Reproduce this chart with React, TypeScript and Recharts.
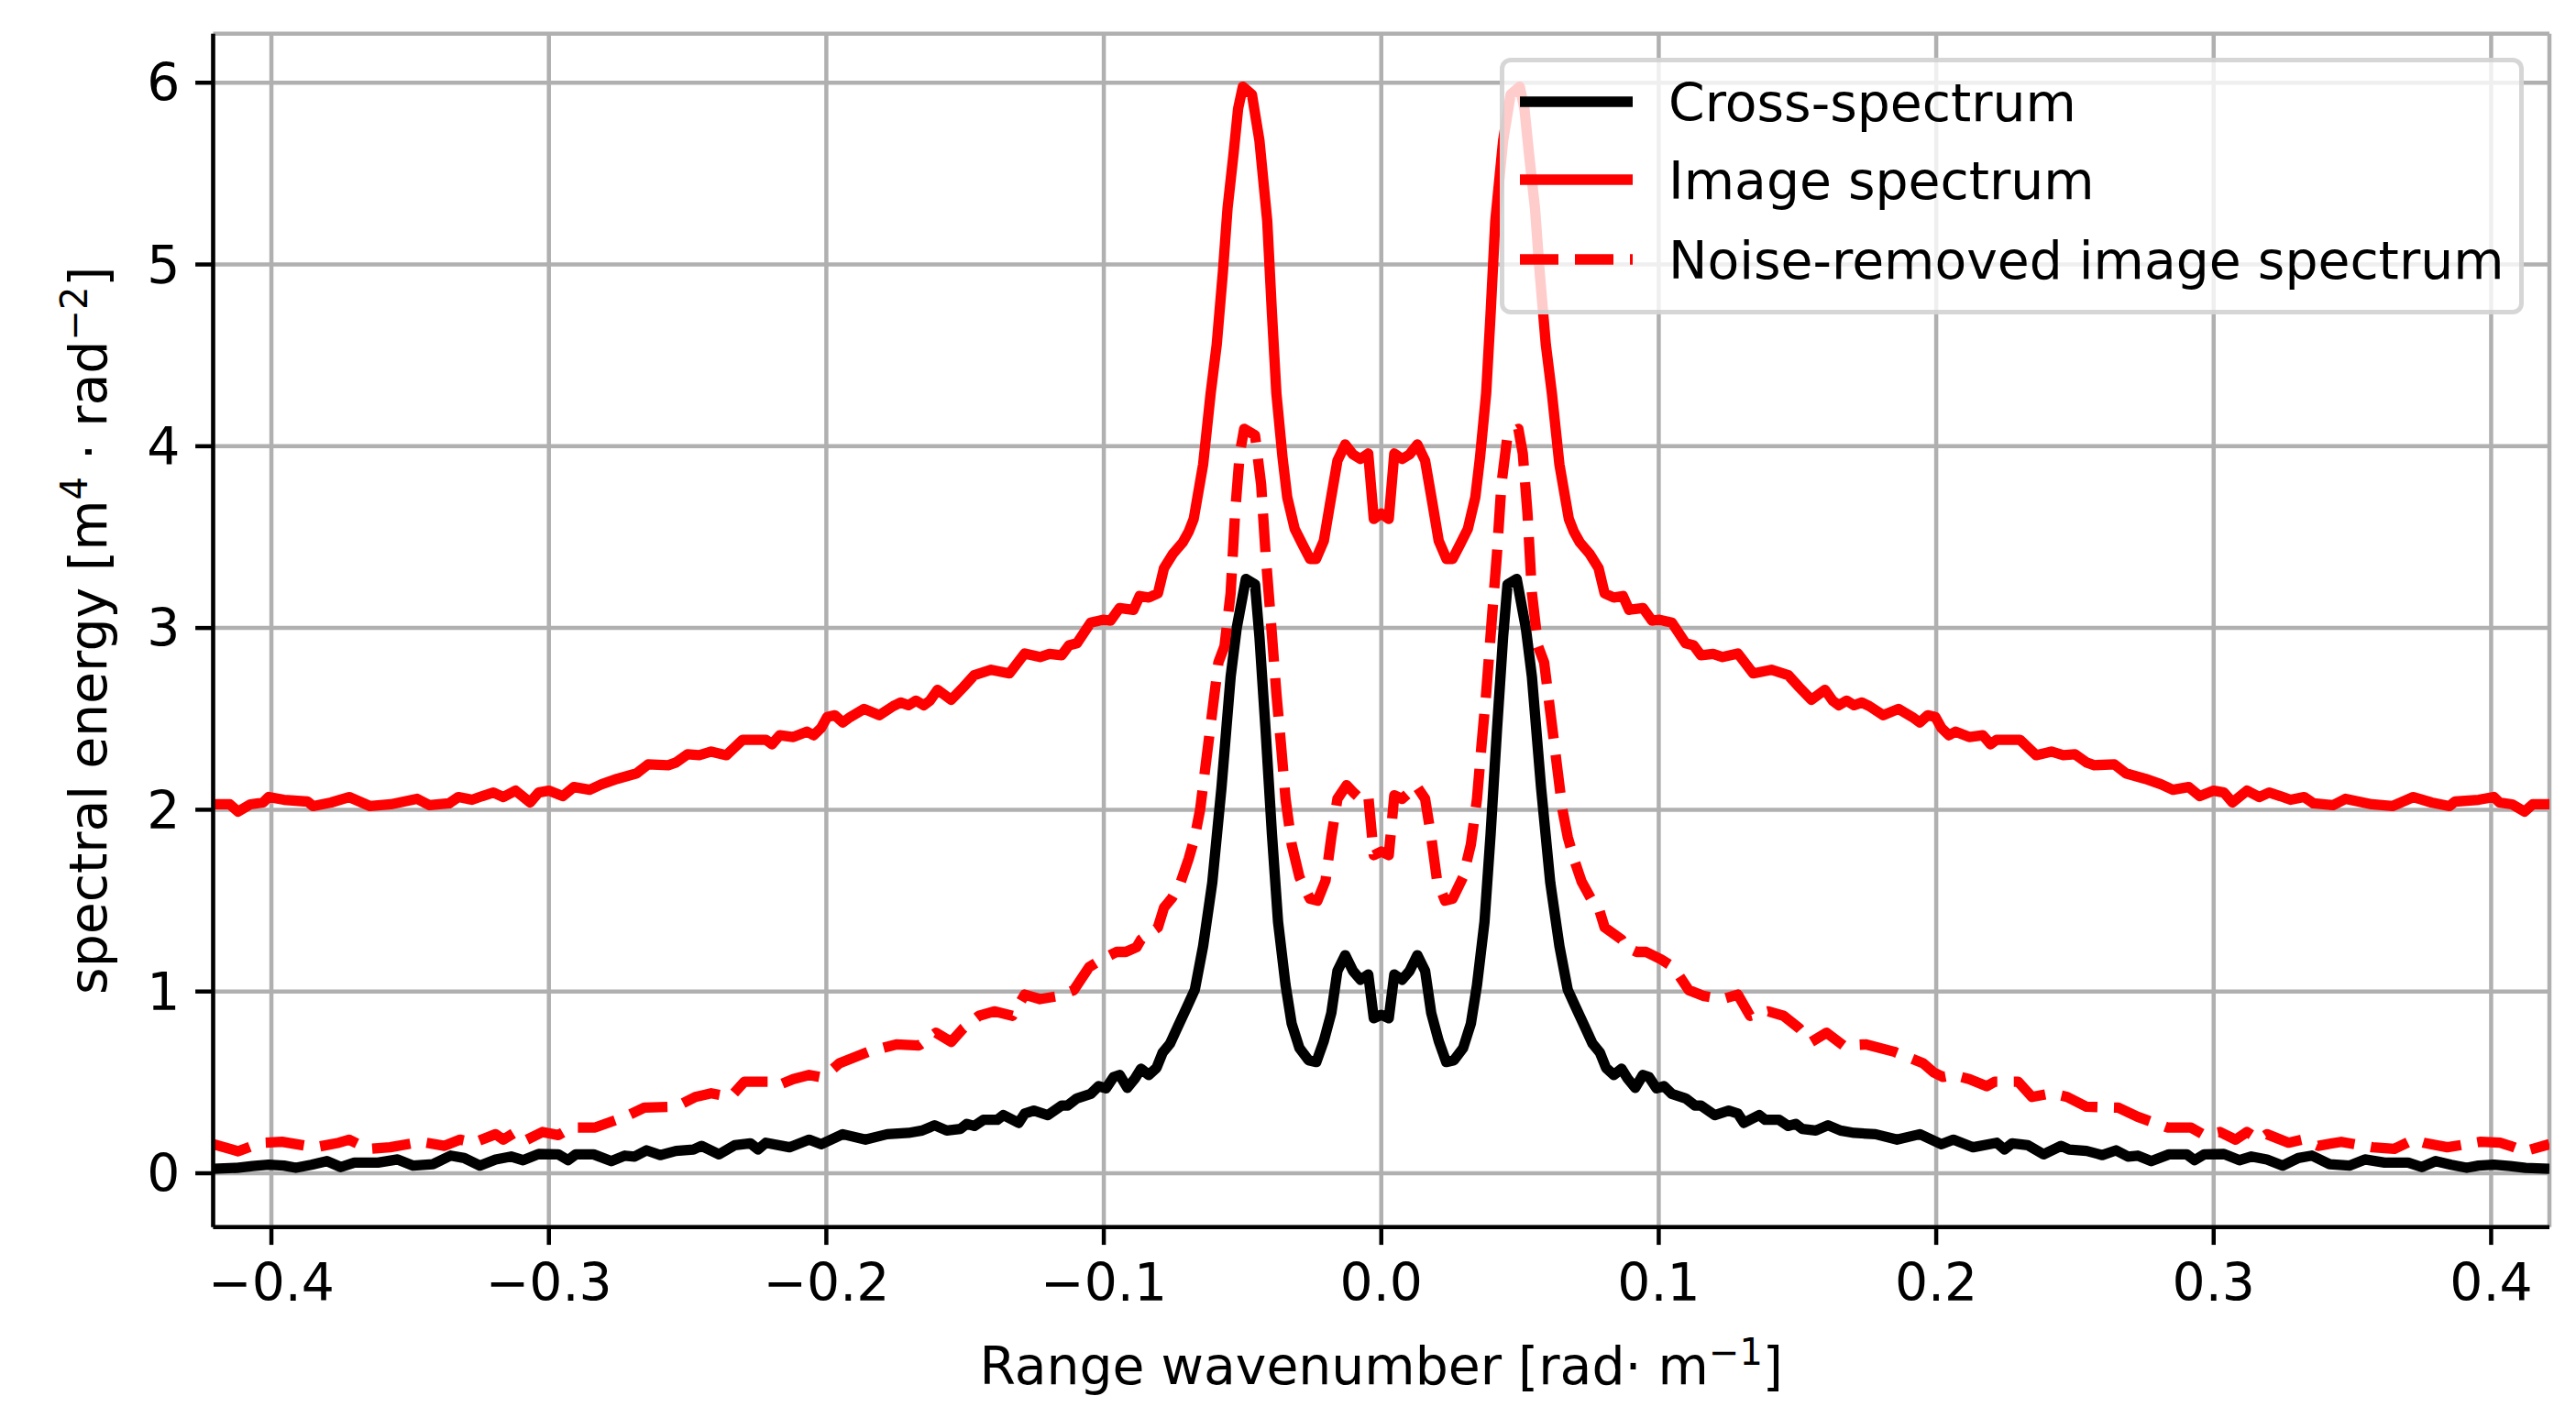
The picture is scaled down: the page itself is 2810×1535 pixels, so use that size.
import React from 'react';
import { LineChart, Line, XAxis, YAxis, CartesianGrid, Legend } from 'recharts';

const FONT = '"DejaVu Sans", sans-serif';
const FS = 56.8;
const SUP = 40;

// Image spectrum (solid red)
const imageK = [
  -0.421,-0.415,-0.412,-0.4075,-0.403,-0.401,-0.3955,-0.387,-0.385,-0.3785,
  -0.372,-0.3644,-0.357,-0.3475,-0.343,-0.336,-0.3326,-0.3277,-0.324,-0.32,
  -0.3164,-0.312,-0.3068,-0.3037,-0.3,-0.295,-0.291,-0.2853,-0.281,-0.2754,
  -0.2684,-0.2642,-0.257,-0.2542,-0.25,-0.2458,-0.2415,-0.236,-0.2302,-0.2218,
  -0.2196,-0.2168,-0.2119,-0.207,-0.2046,-0.2019,-0.1997,-0.1969,-0.1941,-0.1914,
  -0.1864,-0.1809,-0.1759,-0.1732,-0.1704,-0.1677,-0.1649,-0.1627,-0.1599,-0.155,
  -0.1506,-0.1467,-0.1406,-0.134,-0.1285,-0.123,-0.1196,-0.1152,-0.1125,-0.1097,
  -0.1047,-0.1003,-0.0976,-0.0943,-0.0893,-0.0871,-0.0838,-0.0805,-0.0783,-0.075,
  -0.0716,-0.0694,-0.0676,-0.0642,-0.0615,-0.0593,-0.0571,-0.0554,-0.0532,-0.0516,
  -0.0499,-0.0466,-0.0439,-0.0411,-0.0394,-0.0378,-0.0356,-0.0339,-0.0312,-0.0284,
  -0.0257,-0.0235,-0.0207,-0.0185,-0.0158,-0.013,-0.0102,-0.0075,-0.0047,-0.0027,
  0,
  0.0027,0.0047,0.0075,0.0102,0.013,0.0158,0.0185,0.0207,0.0235,0.0257,
  0.0284,0.0312,0.0339,0.0356,0.0378,0.0394,0.0411,0.0439,0.0466,0.0499,
  0.0516,0.0532,0.0554,0.0571,0.0593,0.0615,0.0642,0.0676,0.0694,0.0716,
  0.075,0.0783,0.0805,0.0838,0.0871,0.0893,0.0943,0.0976,0.1003,0.1047,
  0.1097,0.1125,0.1152,0.1196,0.123,0.1285,0.134,0.1406,0.1467,0.1506,
  0.155,0.1599,0.1627,0.1649,0.1677,0.1704,0.1732,0.1759,0.1809,0.1864,
  0.1914,0.1941,0.1969,0.1997,0.2019,0.2046,0.207,0.2119,0.2168,0.2196,
  0.2218,0.2302,0.236,0.2415,0.2458,0.25,0.2542,0.257,0.2642,0.2684,
  0.2754,0.281,0.2853,0.291,0.295,0.3,0.3037,0.3068,0.312,0.3164,
  0.32,0.324,0.3277,0.3326,0.336,0.343,0.3475,0.357,0.3644,0.372,
  0.3785,0.385,0.387,0.3955,0.401,0.403,0.4075,0.412,0.415,0.421,
];
const imageE = [
  2.03,2.03,1.99,2.03,2.04,2.07,2.055,2.045,2.02,2.04,
  2.07,2.02,2.03,2.06,2.025,2.035,2.07,2.055,2.075,2.095,
  2.07,2.105,2.04,2.095,2.105,2.075,2.125,2.11,2.14,2.17,
  2.2,2.25,2.245,2.26,2.305,2.3,2.32,2.3,2.385,2.385,
  2.36,2.41,2.4,2.43,2.41,2.45,2.51,2.52,2.48,2.51,
  2.555,2.52,2.57,2.59,2.575,2.6,2.575,2.6,2.66,2.605,
  2.675,2.74,2.77,2.75,2.86,2.84,2.857,2.85,2.905,2.916,
  3.03,3.045,3.04,3.11,3.1,3.176,3.168,3.19,3.33,3.41,
  3.47,3.53,3.6,3.9,4.29,4.56,4.955,5.31,5.615,5.857,
  5.978,5.934,5.68,5.24,4.73,4.29,3.94,3.72,3.545,3.46,
  3.38,3.38,3.48,3.68,3.92,4.01,3.955,3.93,3.96,3.6,
  3.63,
  3.6,3.96,3.93,3.955,4.01,3.92,3.68,3.48,3.38,3.38,
  3.46,3.545,3.72,3.94,4.29,4.73,5.24,5.68,5.934,5.978,
  5.857,5.615,5.31,4.955,4.56,4.29,3.9,3.6,3.53,3.47,
  3.41,3.33,3.19,3.168,3.176,3.1,3.11,3.04,3.045,3.03,
  2.916,2.905,2.85,2.857,2.84,2.86,2.75,2.77,2.74,2.675,
  2.605,2.66,2.6,2.575,2.6,2.575,2.59,2.57,2.52,2.555,
  2.51,2.48,2.52,2.51,2.45,2.41,2.43,2.4,2.41,2.36,
  2.385,2.385,2.3,2.32,2.3,2.305,2.26,2.245,2.25,2.2,
  2.17,2.14,2.11,2.125,2.075,2.105,2.095,2.04,2.105,2.07,
  2.095,2.075,2.055,2.07,2.035,2.025,2.06,2.03,2.02,2.07,
  2.04,2.02,2.045,2.055,2.07,2.04,2.03,1.99,2.03,2.03,
];

// Cross-spectrum (solid black)
const crossK = [
  -0.421,-0.4124,-0.4068,-0.401,-0.3955,-0.3912,-0.3856,-0.38,-0.375,-0.3701,
  -0.3616,-0.3545,-0.3489,-0.3418,-0.3354,-0.3305,-0.3249,-0.3192,-0.3136,-0.3093,
  -0.3037,-0.2966,-0.2931,-0.2903,-0.2839,-0.2775,-0.2726,-0.2691,-0.2648,-0.2599,
  -0.2542,-0.2479,-0.245,-0.2387,-0.233,-0.2274,-0.2246,-0.2218,-0.2133,-0.2062,
  -0.2019,-0.1941,-0.1859,-0.1781,-0.1704,-0.1655,-0.161,-0.1566,-0.1517,-0.1494,
  -0.1467,-0.1434,-0.1384,-0.1362,-0.1307,-0.1285,-0.1252,-0.1202,-0.1152,-0.113,
  -0.1097,-0.1047,-0.1019,-0.0992,-0.0965,-0.0943,-0.0915,-0.0888,-0.0866,-0.0838,
  -0.081,-0.0788,-0.0761,-0.0733,-0.07,-0.0672,-0.0642,-0.0609,-0.0576,-0.0543,
  -0.0521,-0.0488,-0.0455,-0.0439,-0.0417,-0.0394,-0.0372,-0.0345,-0.0323,-0.0295,
  -0.0262,-0.0234,-0.0207,-0.018,-0.0158,-0.013,-0.0102,-0.0075,-0.0047,-0.0027,
  0,
  0.0027,0.0047,0.0075,0.0102,0.013,0.0158,0.018,0.0207,0.0234,0.0262,
  0.0295,0.0323,0.0345,0.0372,0.0394,0.0417,0.0439,0.0455,0.0488,0.0521,
  0.0543,0.0576,0.0609,0.0642,0.0672,0.07,0.0733,0.0761,0.0788,0.081,
  0.0838,0.0866,0.0888,0.0915,0.0943,0.0965,0.0992,0.1019,0.1047,0.1097,
  0.113,0.1152,0.1202,0.1252,0.1285,0.1307,0.1362,0.1384,0.1434,0.1467,
  0.1494,0.1517,0.1566,0.161,0.1655,0.1704,0.1781,0.1859,0.1941,0.2019,
  0.2062,0.2133,0.2218,0.2246,0.2274,0.233,0.2387,0.245,0.2479,0.2542,
  0.2599,0.2648,0.2691,0.2726,0.2775,0.2839,0.2903,0.2931,0.2966,0.3037,
  0.3093,0.3136,0.3192,0.3249,0.3305,0.3354,0.3418,0.3489,0.3545,0.3616,
  0.3701,0.375,0.38,0.3856,0.3912,0.3955,0.401,0.4068,0.4124,0.421,
];
const crossE = [
  0.025,0.03,0.04,0.047,0.042,0.03,0.047,0.067,0.034,0.059,
  0.059,0.076,0.042,0.05,0.097,0.084,0.042,0.076,0.092,0.072,
  0.106,0.104,0.072,0.104,0.104,0.067,0.097,0.092,0.126,0.1,
  0.123,0.131,0.151,0.104,0.155,0.165,0.131,0.168,0.143,0.185,
  0.16,0.215,0.185,0.215,0.222,0.235,0.264,0.235,0.244,0.272,
  0.26,0.294,0.294,0.32,0.277,0.328,0.345,0.32,0.373,0.373,
  0.412,0.437,0.479,0.467,0.529,0.541,0.47,0.521,0.575,0.541,
  0.58,0.664,0.714,0.807,0.916,1.01,1.25,1.6,2.12,2.73,
  3.0,3.27,3.24,2.95,2.44,1.865,1.383,1.036,0.824,0.689,
  0.622,0.612,0.728,0.882,1.113,1.2,1.113,1.065,1.094,0.853,
  0.872,
  0.853,1.094,1.065,1.113,1.2,1.113,0.882,0.728,0.612,0.622,
  0.689,0.824,1.036,1.383,1.865,2.44,2.95,3.24,3.27,3.0,
  2.73,2.12,1.6,1.25,1.01,0.916,0.807,0.714,0.664,0.58,
  0.541,0.575,0.521,0.47,0.541,0.529,0.467,0.479,0.437,0.412,
  0.373,0.373,0.32,0.345,0.328,0.277,0.32,0.294,0.294,0.26,
  0.272,0.244,0.235,0.264,0.235,0.222,0.215,0.185,0.215,0.16,
  0.185,0.143,0.168,0.131,0.165,0.155,0.104,0.151,0.131,0.123,
  0.1,0.126,0.092,0.097,0.067,0.104,0.104,0.072,0.104,0.106,
  0.072,0.092,0.076,0.042,0.084,0.097,0.05,0.042,0.076,0.059,
  0.059,0.034,0.067,0.047,0.03,0.042,0.047,0.04,0.03,0.025,
];

// Noise-removed image spectrum (dashed red)
const noiseK = [
  -0.421,-0.412,-0.4068,-0.4032,-0.3962,-0.3842,-0.3757,-0.372,-0.3651,-0.3572,
  -0.346,-0.3376,-0.332,-0.327,-0.3192,-0.3164,-0.312,-0.3079,-0.3023,-0.2966,
  -0.2918,-0.2833,-0.2726,-0.2656,-0.2542,-0.2472,-0.2415,-0.2345,-0.2295,-0.2211,
  -0.2182,-0.2119,-0.2062,-0.2024,-0.1991,-0.1953,-0.1848,-0.1748,-0.1666,-0.1605,
  -0.155,-0.1506,-0.145,-0.1395,-0.1329,-0.1285,-0.123,-0.1163,-0.1108,-0.1053,
  -0.1009,-0.0954,-0.0921,-0.0882,-0.0866,-0.0805,-0.0783,-0.0755,-0.0722,-0.0694,
  -0.0672,-0.0653,-0.0631,-0.0609,-0.0587,-0.0565,-0.0543,-0.0527,-0.051,-0.0494,
  -0.0455,-0.0433,-0.0417,-0.04,-0.0378,-0.0361,-0.0345,-0.0323,-0.0295,-0.0257,
  -0.023,-0.0201,-0.018,-0.0158,-0.0125,-0.0097,-0.0075,-0.0047,-0.0027,
  0,
  0.0027,0.0047,0.0075,0.0097,0.0125,0.0158,0.018,0.0201,0.023,
  0.0257,0.0295,0.0323,0.0345,0.0361,0.0378,0.04,0.0417,0.0433,0.0455,
  0.0494,0.051,0.0527,0.0543,0.0565,0.0587,0.0609,0.0631,0.0653,0.0672,
  0.0694,0.0722,0.0755,0.0783,0.0805,0.0866,0.0882,0.0921,0.0954,0.1009,
  0.1053,0.1108,0.1163,0.123,0.1285,0.1329,0.1395,0.145,0.1506,0.155,
  0.1605,0.1666,0.1748,0.1848,0.1953,0.1991,0.2024,0.2062,0.2119,0.2182,
  0.2211,0.2295,0.2345,0.2415,0.2472,0.2542,0.2656,0.2726,0.2833,0.2918,
  0.2966,0.3023,0.3079,0.312,0.3164,0.3192,0.327,0.332,0.3376,0.346,
  0.3572,0.3651,0.372,0.3757,0.3842,0.3962,0.4032,0.4068,0.412,0.421,
];
const noiseE = [
  0.16,0.121,0.151,0.168,0.173,0.143,0.168,0.185,0.134,0.143,
  0.173,0.151,0.185,0.168,0.215,0.185,0.227,0.185,0.227,0.21,
  0.252,0.252,0.311,0.361,0.366,0.42,0.44,0.42,0.504,0.504,
  0.479,0.518,0.541,0.53,0.555,0.605,0.669,0.709,0.703,0.773,
  0.723,0.798,0.866,0.891,0.866,0.983,0.958,0.975,1.008,1.134,
  1.176,1.218,1.218,1.244,1.286,1.353,1.462,1.513,1.605,1.731,
  1.85,2.0,2.27,2.54,2.81,2.9,3.19,3.63,3.96,4.096,
  4.06,3.79,3.41,3.08,2.64,2.35,2.06,1.81,1.63,1.51,
  1.5,1.61,1.85,2.06,2.135,2.09,2.06,2.08,1.75,
  1.77,
  1.75,2.08,2.06,2.09,2.135,2.06,1.85,1.61,1.5,
  1.51,1.63,1.81,2.06,2.35,2.64,3.08,3.41,3.79,4.06,
  4.096,3.96,3.63,3.19,2.9,2.81,2.54,2.27,2.0,1.85,
  1.731,1.605,1.513,1.462,1.353,1.286,1.244,1.218,1.218,1.176,
  1.134,1.008,0.975,0.958,0.983,0.866,0.891,0.866,0.798,0.723,
  0.773,0.703,0.709,0.669,0.605,0.555,0.53,0.541,0.518,0.479,
  0.504,0.504,0.42,0.44,0.42,0.366,0.361,0.311,0.252,0.252,
  0.21,0.227,0.185,0.227,0.185,0.215,0.168,0.185,0.151,0.173,
  0.143,0.134,0.185,0.168,0.143,0.173,0.168,0.151,0.121,0.16,
];

const xTicks = [-0.4, -0.3, -0.2, -0.1, 0, 0.1, 0.2, 0.3, 0.4];
const yTicks = [0, 1, 2, 3, 4, 5, 6];
const seriesNames = ['Cross-spectrum', 'Image spectrum', 'Noise-removed image spectrum'];
const seriesColors = ['#000000', '#ff0000', '#ff0000'];
const seriesDash = ['', '', '42 18'];

const toRows = (k: number[], e: number[]) => k.map((v, i) => ({ k: v, e: e[i] }));
const crossData = toRows(crossK, crossE);
const imageData = toRows(imageK, imageE);
const noiseData = toRows(noiseK, noiseE);
const seriesData = [crossData, imageData, noiseData];

const LW = 11.3;
const GRID_W = 4.5;

const fmtX = (v: number) => {
  if (Math.abs(v) < 1e-9) return '0.0';
  return (v < 0 ? '\u2212' : '') + Math.abs(v).toFixed(1);
};

const LegendBox = () => {
  const w = 1117;
  const h = 280;
  const rowLine = [48, 133, 220];
  const rowBase = [68.5, 153.5, 240.5];
  return (
    <div
      style={{
        width: w,
        height: h,
        boxSizing: 'border-box',
        border: '5px solid rgba(204,204,204,0.8)',
        borderRadius: 12,
        background: 'rgba(255,255,255,0.8)',
        position: 'relative',
      }}
    >
      <svg width={w} height={h} style={{ position: 'absolute', left: -5, top: -5 }}>
        {seriesNames.map((n, i) => (
          <g key={n}>
            <line
              x1={22}
              x2={145}
              y1={rowLine[i]}
              y2={rowLine[i]}
              stroke={seriesColors[i]}
              strokeWidth={LW}
              strokeDasharray={seriesDash[i] || undefined}
            />
            <text x={184} y={rowBase[i]} fontFamily={FONT} fontSize={FS} fill="#000">
              {n}
            </text>
          </g>
        ))}
      </svg>
    </div>
  );
};

const XLabel = () => (
  <text x={1506.75} y={1510} textAnchor="middle" fontFamily={FONT} fontSize={FS} fill="#000">
    Range wavenumber [rad· m
    <tspan dy={-21} fontSize={SUP}>{'\u22121'}</tspan>
    <tspan dy={21}>]</tspan>
  </text>
);

const YLabel = () => (
  <text
    x={116}
    y={687.7}
    transform="rotate(-90 116 687.7)"
    textAnchor="middle"
    fontFamily={FONT}
    fontSize={FS}
    fill="#000"
  >
    spectral energy [m
    <tspan dy={-21} fontSize={SUP}>4</tspan>
    <tspan dy={21}> · rad</tspan>
    <tspan dy={-21} fontSize={SUP}>{'\u22122'}</tspan>
    <tspan dy={21}>]</tspan>
  </text>
);

export default function App() {
  return (
    <div style={{ position: 'absolute', left: 0, top: 0, width: 2810, height: 1535, background: '#fff' }}>
      <LineChart
        width={2810}
        height={1535}
        margin={{ top: 36.7, right: 29, bottom: 0, left: 0 }}
        style={{ fontFamily: FONT }}
      >
        <CartesianGrid stroke="#b0b0b0" strokeWidth={GRID_W} />
        <XAxis
          type="number"
          dataKey="k"
          domain={[-0.421, 0.421]}
          allowDataOverflow
          ticks={xTicks}
          interval={0}
          tickFormatter={fmtX}
          height={196.3}
          tickSize={19.4}
          tickMargin={21}
          stroke="#000"
          axisLine={{ stroke: '#000', strokeWidth: GRID_W }}
          tickLine={{ stroke: '#000', strokeWidth: GRID_W }}
          tick={{ fontSize: FS, fill: '#000', fontFamily: FONT }}
          label={{ content: () => <XLabel /> }}
        />
        <XAxis
          xAxisId="top"
          orientation="top"
          type="number"
          dataKey="k"
          domain={[-0.421, 0.421]}
          allowDataOverflow
          height={0}
          tick={false}
          tickLine={false}
          axisLine={{ stroke: '#000', strokeWidth: GRID_W }}
        />
        <YAxis
          type="number"
          domain={[-0.296, 6.27]}
          allowDataOverflow
          ticks={yTicks}
          interval={0}
          width={232.5}
          tickSize={19.4}
          tickMargin={16.6}
          stroke="#000"
          axisLine={{ stroke: '#000', strokeWidth: GRID_W }}
          tickLine={{ stroke: '#000', strokeWidth: GRID_W }}
          tick={{ fontSize: FS, fill: '#000', fontFamily: FONT }}
          label={{ content: () => <YLabel /> }}
        />
        <YAxis
          yAxisId="right"
          orientation="right"
          type="number"
          domain={[-0.296, 6.27]}
          allowDataOverflow
          width={0}
          tick={false}
          tickLine={false}
          axisLine={{ stroke: '#000', strokeWidth: GRID_W }}
        />
        {seriesNames.map((n, i) => (
          <Line
            key={n}
            name={n}
            data={seriesData[i]}
            dataKey="e"
            type="linear"
            stroke={seriesColors[i]}
            strokeWidth={LW}
            strokeDasharray={seriesDash[i] || undefined}
            strokeLinejoin="round"
            dot={false}
            activeDot={false}
            isAnimationActive={false}
          />
        ))}
        <Legend
          layout="horizontal"
          align="center"
          verticalAlign="middle"
          content={() => <LegendBox />}
          wrapperStyle={{ position: 'absolute', left: 1636, top: 62.5, width: 1117, height: 280, right: 'auto', bottom: 'auto' }}
        />
      </LineChart>
    </div>
  );
}
